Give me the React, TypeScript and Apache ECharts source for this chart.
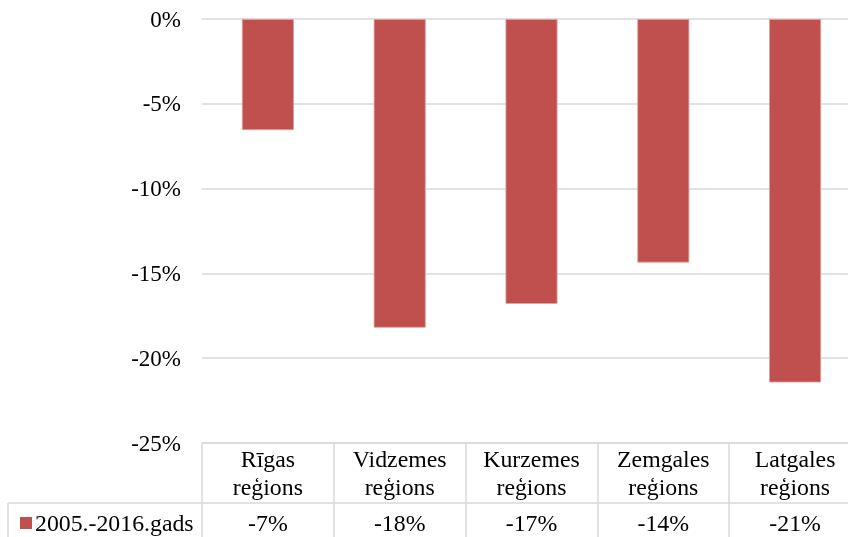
import React, { useEffect, useRef } from "react";
import * as echarts from "echarts";

const categories = ["Rīgas\nreģions", "Vidzemes\nreģions", "Kurzemes\nreģions", "Zemgales\nreģions", "Latgales\nreģions"];
const values = [-6.55, -18.2, -16.8, -14.36, -21.43];
const seriesName = "2005.-2016.gads";
const yTicks = { min: -25, max: 0, interval: 5 };

const FONT = "'Liberation Serif', 'Times New Roman', serif";
const GRID_COLOR = "#d9d9d9";
const FS = 23.8;

export default function App() {
  const ref = useRef<HTMLDivElement>(null);
  useEffect(() => {
    if (!ref.current) return;
    const chart = echarts.init(ref.current, null, { renderer: "svg" });
    chart.setOption({
      animation: false,
      textStyle: { fontFamily: FONT },
      grid: { left: 202, top: 19, width: 659, height: 424, containLabel: false },
      legend: {
        data: [seriesName],
        left: 15,
        top: 506,
        icon: "rect",
        itemWidth: 12,
        itemHeight: 12,
        itemStyle: { borderWidth: 0 },
        textStyle: { fontFamily: FONT, fontSize: FS, color: "#000", padding: [0, 0, 0, -2] },
      },
      xAxis: [
        {
          type: "category",
          data: categories,
          position: "bottom",
          axisLine: { onZero: false, show: true, lineStyle: { color: GRID_COLOR, width: 1.5 } },
          axisTick: { show: true, length: 100, lineStyle: { color: GRID_COLOR, width: 1.5 } },
          axisLabel: { fontFamily: FONT, fontSize: FS, lineHeight: 28, color: "#000", margin: 2 },
        },
        {
          type: "category",
          data: categories,
          position: "bottom",
          offset: 60,
          axisLine: { show: false },
          axisTick: { show: false },
          axisLabel: {
            fontFamily: FONT,
            fontSize: FS,
            color: "#000",
            margin: 8,
            formatter: (_v: string, i: number) => `${Math.round(values[i])}%`,
          },
        },
      ],
      yAxis: {
        type: "value",
        min: yTicks.min,
        max: yTicks.max,
        interval: yTicks.interval,
        axisLine: { show: false },
        axisTick: { show: false },
        splitLine: { lineStyle: { color: GRID_COLOR, width: 1.5 } },
        axisLabel: { fontFamily: FONT, fontSize: 23, color: "#000", margin: 21, formatter: (v: number) => `${v}%` },
      },
      series: [
        {
          name: seriesName,
          type: "bar",
          xAxisIndex: 0,
          data: values,
          barWidth: 52,
          itemStyle: { color: "#c0504d", borderColor: "#e3a09e", borderWidth: 0.8 },
        },
      ],
      graphic: [
        { type: "line", shape: { x1: 8, y1: 503, x2: 880, y2: 503 }, style: { stroke: GRID_COLOR, lineWidth: 1.5 } },
        { type: "line", shape: { x1: 8, y1: 503, x2: 8, y2: 537 }, style: { stroke: GRID_COLOR, lineWidth: 1.5 } },
      ],
    });
    return () => chart.dispose();
  }, []);
  return (
    <div style={{ position: "fixed", left: 0, top: 0, width: 848, height: 537, overflow: "hidden" }}>
      <div ref={ref} style={{ position: "absolute", left: 0, top: 0, width: 880, height: 537 }} />
    </div>
  );
}
